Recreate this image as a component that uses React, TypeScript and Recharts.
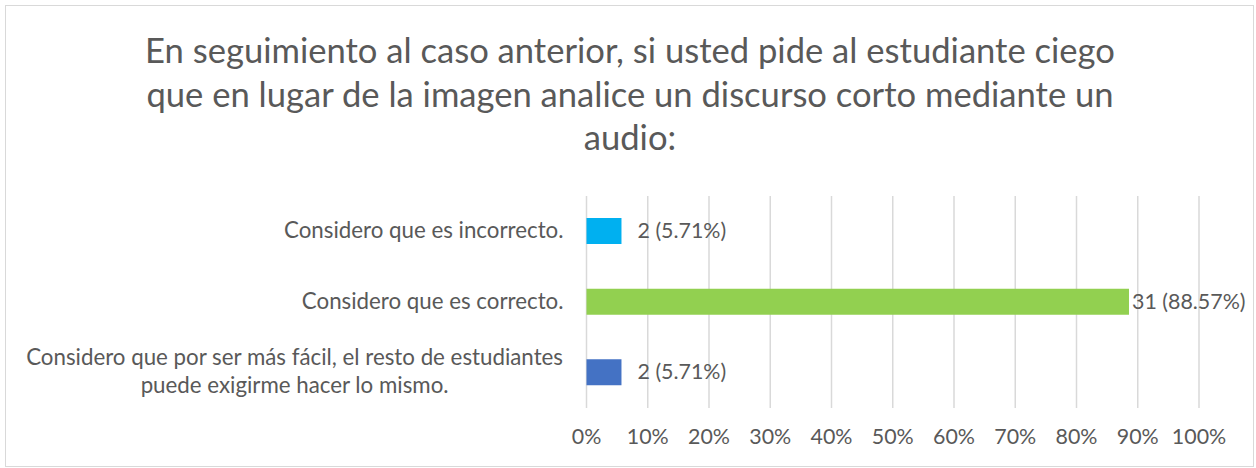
import React from 'react';
import { BarChart, Bar, XAxis, YAxis, CartesianGrid, Cell, LabelList } from 'recharts';

const titleLines = [
  'En seguimiento al caso anterior, si usted pide al estudiante ciego',
  'que en lugar de la imagen analice un discurso corto mediante un',
  'audio:',
];

const categories = [
  'Considero que es incorrecto.',
  'Considero que es correcto.',
  'Considero que por ser más fácil, el resto de estudiantes puede exigirme hacer lo mismo.',
];
const counts = [2, 31, 2];
const percents = [5.71, 88.57, 5.71];
const xTicks = [0, 0.1, 0.2, 0.3, 0.4, 0.5, 0.6, 0.7, 0.8, 0.9, 1];
const COLORS = ['#00B0F0', '#92D050', '#4472C4'];

const FONT = 'Lato, "Open Sans", sans-serif';
const TEXT = '#595959';
const CAT_SIZE = 22.3;
const VAL_SIZE = 21.4;

const data = categories.map((name, i) => ({
  name,
  value: percents[i] / 100,
  label: `${counts[i]} (${percents[i].toFixed(2)}%)`,
}));

let canvas: HTMLCanvasElement | null = null;
const measure = (s: string, size: number) => {
  if (!canvas) canvas = document.createElement('canvas');
  const ctx = canvas.getContext('2d');
  if (!ctx) return s.length * size * 0.45;
  ctx.font = `${size}px Lato`;
  return ctx.measureText(s).width;
};

// long category label wraps in two lines, centred against each other
const splitLabel = (s: string) =>
  s.length > 40 ? ['Considero que por ser más fácil, el resto de estudiantes', 'puede exigirme hacer lo mismo.'] : [s];

const CategoryTick = (props: any) => {
  const { x, y, payload } = props;
  const lines = splitLabel(payload.value);
  if (lines.length === 1) {
    return (
      <text x={x} y={y} dy="0.3em" textAnchor="end" fill={TEXT} fontSize={CAT_SIZE} fontFamily={FONT}>
        {lines[0]}
      </text>
    );
  }
  const w = Math.max(...lines.map((l) => measure(l, CAT_SIZE)));
  const cx = x - w / 2;
  return (
    <text x={cx} y={y} textAnchor="middle" fill={TEXT} fontSize={CAT_SIZE} fontFamily={FONT}>
      <tspan x={cx} dy="-0.33em">{lines[0]}</tspan>
      <tspan x={cx} dy="1.23em">{lines[1]}</tspan>
    </text>
  );
};

const ValueLabel = (props: any) => {
  const { x, y, width, height, value } = props;
  const lx = Math.max(x + width + 3, x + 51);
  return (
    <text x={lx} y={y + height / 2} dy="0.32em" fill={TEXT} fontSize={VAL_SIZE} fontFamily={FONT}>
      {value}
    </text>
  );
};

const App = () => {
  return (
    <div style={{ position: 'absolute', left: 0, top: 0, width: 1256, height: 468, background: '#fff' }}>
      <div
        style={{
          position: 'absolute',
          left: 5,
          top: 5,
          width: 1247,
          height: 460,
          border: '1px solid #D9D9D9',
        }}
      />
      <svg width={1256} height={170} style={{ position: 'absolute', left: 0, top: 0 }}>
        {titleLines.map((t, i) => (
          <text key={i} x={630} y={63 + i * 43.6} textAnchor="middle" fill={TEXT} fontSize={34.6} fontFamily={FONT}>
            {t}
          </text>
        ))}
      </svg>
      <div style={{ position: 'absolute', left: 0, top: 0 }}>
        <BarChart
          width={1256}
          height={468}
          data={data}
          layout="vertical"
          margin={{ top: 196, right: 57, bottom: 30, left: 0 }}
          barSize={26}
        >
          <CartesianGrid horizontal={false} stroke="#D9D9D9" strokeWidth={1.5} />
          <XAxis
            type="number"
            domain={[0, 1]}
            ticks={xTicks}
            tickFormatter={(v: number) => `${Math.round(v * 100)}%`}
            axisLine={false}
            tickLine={false}
            tickSize={0}
            tickMargin={21}
            height={30}
            interval={0}
            tick={{ fill: TEXT, fontSize: VAL_SIZE, fontFamily: FONT }}
          />
          <YAxis
            type="category"
            dataKey="name"
            width={586.5}
            axisLine={false}
            tickLine={false}
            tickSize={0}
            tickMargin={23}
            interval={0}
            tick={<CategoryTick />}
          />
          <Bar dataKey="value" isAnimationActive={false}>
            {data.map((d, i) => (
              <Cell key={d.name} fill={COLORS[i]} />
            ))}
            <LabelList dataKey="label" content={<ValueLabel />} />
          </Bar>
        </BarChart>
      </div>
    </div>
  );
};

export default App;
